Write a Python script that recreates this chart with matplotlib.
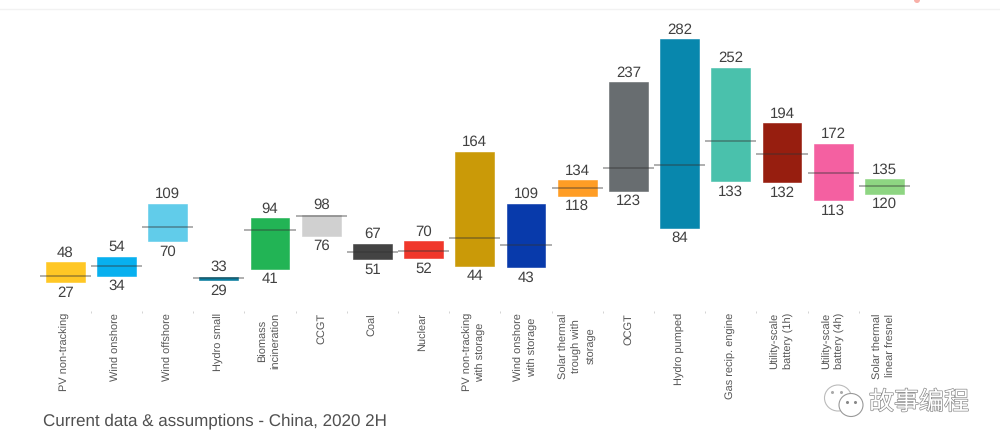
import matplotlib
matplotlib.use("Agg")
import matplotlib.pyplot as plt
import matplotlib.patheffects as pe
from matplotlib.patches import Ellipse, Circle
from matplotlib.lines import Line2D
import numpy as np

plt.rcParams['font.family'] = ['Liberation Sans', 'Noto Sans CJK SC', 'DejaVu Sans']
plt.rcParams['text.hinting'] = 'none'
plt.rcParams['text.hinting_factor'] = 1

# 数据
categories = ['PV non-tracking', 'Wind onshore', 'Wind offshore', 'Hydro small',
              'Biomass\nincineration', 'CCGT', 'Coal', 'Nuclear',
              'PV non-tracking\nwith storage', 'Wind onshore\nwith storage',
              'Solar thermal\ntrough with\nstorage', 'OCGT', 'Hydro pumped',
              'Gas recip. engine', 'Utility-scale\nbattery (1h)',
              'Utility-scale\nbattery (4h)', 'Solar thermal\nlinear fresnel']
low = [27, 34, 70, 29, 41, 76, 51, 52, 44, 43, 118, 123, 84, 133, 132, 113, 120]
high = [48, 54, 109, 33, 94, 98, 67, 70, 164, 109, 134, 237, 282, 252, 194, 172, 135]
mid = [33.5, 44, 85.5, 31.5, 82, 96.5, 58.5, 59.5, 73.5, 66.5, 126, 147, 150, 175, 162, 142, 128]
colors = ['#ffc61e', '#00aeef', '#5ccbea', '#00789c', '#1bb24f', '#cfcfcf', '#3d3d3d',
          '#f03024', '#c99700', '#0033a8', '#ff9a1e', '#63686b', '#0083ab', '#44bfaa',
          '#941607', '#f45b9e', '#8ad47e']

W, H = 1000, 447
fig = plt.figure(figsize=(W / 100, H / 100), dpi=100)
bottom_px = 311
ax = fig.add_axes([0, (H - bottom_px) / H, 1, bottom_px / H])

# 像素和数值的换算
px_per_unit = 0.952
step = 51.2
ax.set_xlim(-65.2 / step, (W - 65.2) / step)
ax.set_ylim(282 - (bottom_px - 39.5) / px_per_unit, 282 + 39.5 / px_per_unit)

x = np.arange(len(categories))
low = np.array(low)
high = np.array(high)
ax.bar(x, high - low, bottom=low, width=0.755, color=colors, edgecolor=colors, linewidth=0.4, alpha=0.97)
ax.hlines(mid, x - 0.5, x + 0.5, color='#333333', alpha=0.42, linewidth=1.3)

for i in x:
    ax.annotate(str(high[i]), (i, high[i]), xytext=(0, 2), textcoords='offset points',
                ha='center', va='bottom', fontsize=10.7, color='#404040')
    ax.annotate(str(low[i]), (i, low[i]), xytext=(0, -2.5), textcoords='offset points',
                ha='center', va='top', fontsize=10.7, color='#404040')

ax.set_xticks(x)
ax.set_xticklabels(categories, rotation=90, fontsize=7.9, color='#555555', linespacing=1.35)
ax.tick_params(axis='x', length=0, pad=1.5)
ax.set_xticks(x[:-1] + 0.5, minor=True)
ax.tick_params(axis='x', which='minor', length=1.5, color='#cccccc', width=0.6)
ax.set_yticks([])
for s in ax.spines.values():
    s.set_visible(False)
ax.patch.set_alpha(0)

# 顶部的线
fig.add_artist(Line2D([0, 1], [1 - 9 / H, 1 - 9 / H], color='#f2f2f2', linewidth=1))

fig.text(43 / W, 1 - 421 / H, 'Current data & assumptions - China, 2020 2H',
         fontsize=12.5, color='#505050', va='center', ha='left')

# 水印
fig.text(869 / W, 1 - 403 / H, '故事编程', fontsize=18, color='white', va='center', ha='left',
         path_effects=[pe.withStroke(linewidth=1.0, foreground='#8a8a8a')])
icon = fig.add_axes([0, 0, 1, 1])
icon.set_xlim(0, W)
icon.set_ylim(H, 0)
icon.axis('off')
icon.add_patch(Circle((917, 0), 3, facecolor='#f8b0a8', edgecolor='none'))
icon.add_patch(Ellipse((838, 398), 27, 26, facecolor='white', edgecolor='#bbbbbb', linewidth=0.8))
icon.add_patch(Ellipse((851, 405), 24, 23, facecolor='white', edgecolor='#999999', linewidth=0.8))
icon.plot([847, 855], [402, 402], ls='none', marker='o', ms=1.2, color='#888888')
icon.plot([832, 841], [392, 392], ls='none', marker='o', ms=1.2, color='#aaaaaa')

fig.savefig('out.png', dpi=100)
